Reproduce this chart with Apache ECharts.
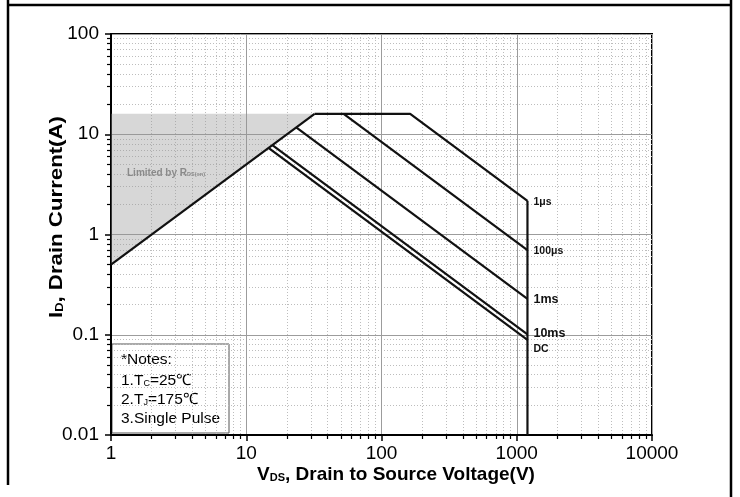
<!DOCTYPE html>
<html>
<head>
<meta charset="utf-8">
<script src="https://cdn.jsdelivr.net/npm/echarts@6/dist/echarts.min.js"></script>
<style>
  html, body { margin: 0; padding: 0; background: #fff; }
  #chart { width: 740px; height: 497px; }
</style>
</head>
<body>
<div id="chart"></div>
<script>
// Decade ticks and the 2..9 minor ticks of each decade
const xMajorTicks = [1, 10, 100, 1000, 10000];
const yMajorTicks = [0.01, 0.1, 1, 10, 100];
const xMinorTicks = [2, 3, 4, 5, 6, 7, 8, 9,
  20, 30, 40, 50, 60, 70, 80, 90,
  200, 300, 400, 500, 600, 700, 800, 900,
  2000, 3000, 4000, 5000, 6000, 7000, 8000, 9000];
const yMinorTicks = [0.02, 0.03, 0.04, 0.05, 0.06, 0.07, 0.08, 0.09,
  0.2, 0.3, 0.4, 0.5, 0.6, 0.7, 0.8, 0.9,
  2, 3, 4, 5, 6, 7, 8, 9,
  20, 30, 40, 50, 60, 70, 80, 90];

// Safe operating area boundaries, [VDS (V), ID (A)]
const rdsLimit   = [[1, 0.5], [32, 16]];
const pulse1us   = [[32, 16], [163, 16], [1200, 2.17]];
const bvdssLimit = [[1200, 2.17], [1200, 0.01]];
const pulse100us = [[52.5, 16], [1200, 0.70]];
const pulse1ms   = [[23.4, 11.7], [1200, 0.228]];
const pulse10ms  = [[15.6, 7.8], [1200, 0.101]];
const dcLimit    = [[14.6, 7.3], [1200, 0.0887]];
// Shaded region bounded by the on-resistance line and the current limit
const rdsRegion  = [[1, 0.5], [1, 16], [32, 16]];

const FONT = '"Liberation Sans", Arial, sans-serif';

function fmtTick(v) { return String(+Number(v).toPrecision(3)); }

function majorAxis(ticks) {
  return {
    type: 'log', logBase: 10,
    axisLine: { show: true, lineStyle: { color: '#000', width: 2 } },
    axisTick: { show: true, inside: false, length: 6, customValues: ticks,
      lineStyle: { color: '#000', width: 1.5 } },
    axisLabel: { show: true, customValues: ticks, formatter: fmtTick,
      fontFamily: FONT, fontSize: 19, color: '#000' },
    splitLine: { show: true, lineStyle: { color: '#9c9c9c', width: 1 } },
    minorTick: { show: false },
    minorSplitLine: { show: false }
  };
}

function minorAxis(ticks) {
  return {
    type: 'log', logBase: 10,
    axisLine: { show: false },
    axisTick: { show: true, inside: false, length: 4, customValues: ticks,
      lineStyle: { color: '#000', width: 1.2 } },
    axisLabel: { show: false },
    splitLine: { show: true, lineStyle: { color: '#bdbdbd', width: 1, type: [1, 2] } }
  };
}

const xMain = Object.assign(majorAxis(xMajorTicks), { min: 1, max: 10000, position: 'bottom' });
xMain.axisLabel.margin = 9;
const xMinor = Object.assign(minorAxis(xMinorTicks), { min: 1, max: 10000, position: 'bottom' });
const yMain = Object.assign(majorAxis(yMajorTicks), { min: 0.01, max: 100, position: 'left' });
yMain.axisLabel.margin = 12;
const yMinor = Object.assign(minorAxis(yMinorTicks), { min: 0.01, max: 100, position: 'left' });

function boundary(name, data, label) {
  const s = {
    name: name, type: 'line', data: data,
    xAxisIndex: 0, yAxisIndex: 0,
    showSymbol: false, symbol: 'none', silent: true, clip: false,
    lineStyle: { color: '#111', width: 2.2 },
    z: 5
  };
  if (label) {
    s.endLabel = Object.assign({
      show: true, formatter: name, color: '#111', fontFamily: FONT,
      fontWeight: 'bold', align: 'left', verticalAlign: 'middle', distance: 6
    }, label);
  }
  return s;
}

const chart = echarts.init(document.getElementById('chart'), null, { renderer: 'canvas' });

chart.setOption({
  animation: false,
  backgroundColor: '#fff',
  grid: { left: 111, top: 34, right: 88, bottom: 62, show: true,
    borderColor: '#000', borderWidth: 2, backgroundColor: 'transparent' },
  xAxis: [xMain, xMinor],
  yAxis: [yMain, yMinor],
  series: [
    {
      type: 'custom', xAxisIndex: 0, yAxisIndex: 0, silent: true, clip: false, z: 2,
      data: [rdsRegion[0]],
      renderItem: function (params, api) {
        return {
          type: 'polygon',
          shape: { points: rdsRegion.map(function (p) { return api.coord(p); }) },
          style: { fill: 'rgba(150,150,150,0.38)' }
        };
      }
    },
    boundary('rds', rdsLimit),
    boundary('1μs', pulse1us, { fontSize: 10.5, offset: [0, 1] }),
    boundary('bvdss', bvdssLimit),
    boundary('100μs', pulse100us, { fontSize: 10.5, offset: [0, 1] }),
    boundary('1ms', pulse1ms, { fontSize: 12.5, offset: [0, 1] }),
    boundary('10ms', pulse10ms, { fontSize: 12.5, offset: [0, -1] }),
    boundary('DC', dcLimit, { fontSize: 10.5, offset: [0, 9] })
  ],
  graphic: [
    // x-axis title
    {
      type: 'text', x: 396, y: 475, z: 50,
      style: {
        text: '{b|V}{s|DS}{b|, Drain to Source Voltage(V)}',
        align: 'center', verticalAlign: 'middle',
        rich: {
          b: { fontFamily: FONT, fontSize: 19, fontWeight: 'bold', fill: '#000' },
          s: { fontFamily: FONT, fontSize: 11, fontWeight: 'bold', fill: '#000', padding: [6, 0, 0, 0] }
        }
      }
    },
    // y-axis title, slightly stretched along its length
    {
      type: 'text', x: 57, y: 217, rotation: Math.PI / 2, scaleX: 1.17, z: 50,
      style: {
        text: '{b|I}{s|D}{b|, Drain Current(A)}',
        align: 'center', verticalAlign: 'middle',
        rich: {
          b: { fontFamily: FONT, fontSize: 19, fontWeight: 'bold', fill: '#000' },
          s: { fontFamily: FONT, fontSize: 11, fontWeight: 'bold', fill: '#000', padding: [6, 0, 0, 0] }
        }
      }
    },
    // region caption
    {
      type: 'text', x: 127, y: 173, z: 50,
      style: {
        text: '{b|Limited by R}{s|DS(on)}',
        verticalAlign: 'middle',
        rich: {
          b: { fontFamily: FONT, fontSize: 10, fontWeight: 'bold', fill: '#8a8a8a' },
          s: { fontFamily: FONT, fontSize: 5.5, fontWeight: 'bold', fill: '#8a8a8a', padding: [3, 0, 0, 0] }
        }
      }
    },
    // test conditions box
    {
      type: 'group', x: 112, y: 344, z: 60,
      children: [
        { type: 'rect', shape: { x: 0, y: 0, width: 117, height: 89 },
          style: { fill: '#fff', stroke: '#555', lineWidth: 1 } },
        { type: 'text', x: 9, y: 16, style: { text: '*Notes:', fontFamily: FONT, fontSize: 15.5, fill: '#000', verticalAlign: 'middle' } },
        { type: 'text', x: 9, y: 37, style: { text: '{n|1.T}{s|C}{n|=25℃}', verticalAlign: 'middle',
          rich: { n: { fontFamily: FONT, fontSize: 15.5, fill: '#000' }, s: { fontFamily: FONT, fontSize: 9, fill: '#000', padding: [5, 0, 0, 0] } } } },
        { type: 'text', x: 9, y: 56, style: { text: '{n|2.T}{s|J}{n|=175℃}', verticalAlign: 'middle',
          rich: { n: { fontFamily: FONT, fontSize: 15.5, fill: '#000' }, s: { fontFamily: FONT, fontSize: 9, fill: '#000', padding: [5, 0, 0, 0] } } } },
        { type: 'text', x: 9, y: 75, style: { text: '3.Single Pulse', fontFamily: FONT, fontSize: 15.5, fill: '#000', verticalAlign: 'middle' } }
      ]
    },
    // page frame
    { type: 'line', z: 70, shape: { x1: 8, y1: 0, x2: 8, y2: 485 }, style: { stroke: '#000', lineWidth: 2.5 } },
    { type: 'line', z: 70, shape: { x1: 8, y1: 5, x2: 731, y2: 5 }, style: { stroke: '#000', lineWidth: 2.5 } },
    { type: 'line', z: 70, shape: { x1: 731, y1: 0, x2: 731, y2: 497 }, style: { stroke: '#000', lineWidth: 2.5 } }
  ]
});
</script>
</body>
</html>
